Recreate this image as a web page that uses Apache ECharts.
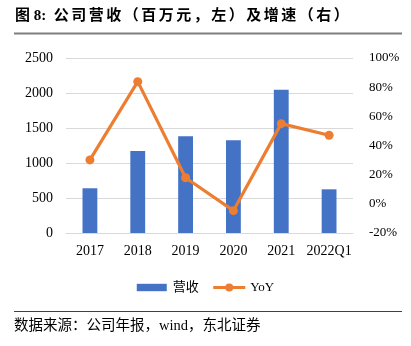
<!DOCTYPE html>
<html><head><meta charset="utf-8">
<script src="https://cdn.jsdelivr.net/npm/echarts@6/dist/echarts.min.js"></script>
<style>html,body{margin:0;padding:0;background:#fff}#c{width:411px;height:346px}</style>
</head><body><div id="c"></div>
<script>
const categories = ['2017','2018','2019','2020','2021','2022Q1'];
const revenue = [639, 1171, 1381, 1324, 2047, 624];
const yoy = [30.1, 83.8, 17.9, -4.7, 55.0, 47.0];
const leftTicks = [0, 2500, 500];
const rightTicks = [-20, 100, 20];

const serif = '"Liberation Serif","Times New Roman","Noto Sans CJK SC",serif';
const sp = '\u200A\u200A';
const spaced = s => s.split('').join(sp);
const titleText = '图 8:  ' + spaced('公司营收（百万元，左）及增速（右）');
const chart = echarts.init(document.getElementById('c'), null, {renderer:'canvas'});
chart.setOption({
  animation: false,
  backgroundColor: '#fff',
  grid: {left: 66, right: 58, top: 58, bottom: 113, containLabel: false},
  xAxis: {
    type: 'category', data: categories,
    axisLine: {show: true, lineStyle: {color: '#D9D9D9'}},
    axisTick: {show: false},
    axisLabel: {color: '#000', fontFamily: serif, fontSize: 14, margin: 11, interval: 0}
  },
  yAxis: [
    {type: 'value', min: leftTicks[0], max: leftTicks[1], interval: leftTicks[2],
     axisLine: {show: false}, axisTick: {show: false},
     splitLine: {lineStyle: {color: '#D9D9D9'}},
     axisLabel: {color: '#000', fontFamily: serif, fontSize: 14, margin: 13, formatter: v => String(v)}},
    {type: 'value', min: rightTicks[0], max: rightTicks[1], interval: rightTicks[2],
     axisLine: {show: false}, axisTick: {show: false}, splitLine: {show: false},
     axisLabel: {color: '#000', fontFamily: serif, fontSize: 13, margin: 16, formatter: '{value}%'}}
  ],
  legend: {
    top: 276, left: 'center', itemGap: 13, itemWidth: 32, itemHeight: 10,
    textStyle: {color: '#000', fontFamily: serif, fontSize: 13},
    lineStyle: {width: 3},
    data: [
      {name: '营收', icon: 'path://M0,0M0,1.3H30V8.7H0ZM30,10'},
      {name: 'YoY'}
    ]
  },
  series: [
    {name: '营收', type: 'bar', data: revenue, barWidth: '31%', yAxisIndex: 0,
     itemStyle: {color: '#4472C4'}},
    {name: 'YoY', type: 'line', data: yoy, yAxisIndex: 1,
     symbol: 'circle', symbolSize: 9,
     lineStyle: {color: '#ED7D31', width: 3.2},
     itemStyle: {color: '#ED7D31'}}
  ],
  graphic: [
    {type: 'text', left: 15, top: 9,
     style: {text: titleText, fill: '#000',
             font: 'bold 15px "Liberation Serif","Noto Sans CJK SC",serif'}},
    {type: 'line', shape: {x1: 14, y1: 33.5, x2: 402, y2: 33.5},
     style: {stroke: '#7F7F7F', lineWidth: 2}},
    {type: 'line', shape: {x1: 14, y1: 311.5, x2: 402, y2: 311.5},
     style: {stroke: '#404040', lineWidth: 1}},
    {type: 'text', left: 14, top: 319,
     style: {text: '数据来源：公司年报，wind，东北证券', fill: '#000',
             font: '14.5px "Liberation Serif","Noto Sans CJK SC",serif'}}
  ]
});
</script></body></html>
